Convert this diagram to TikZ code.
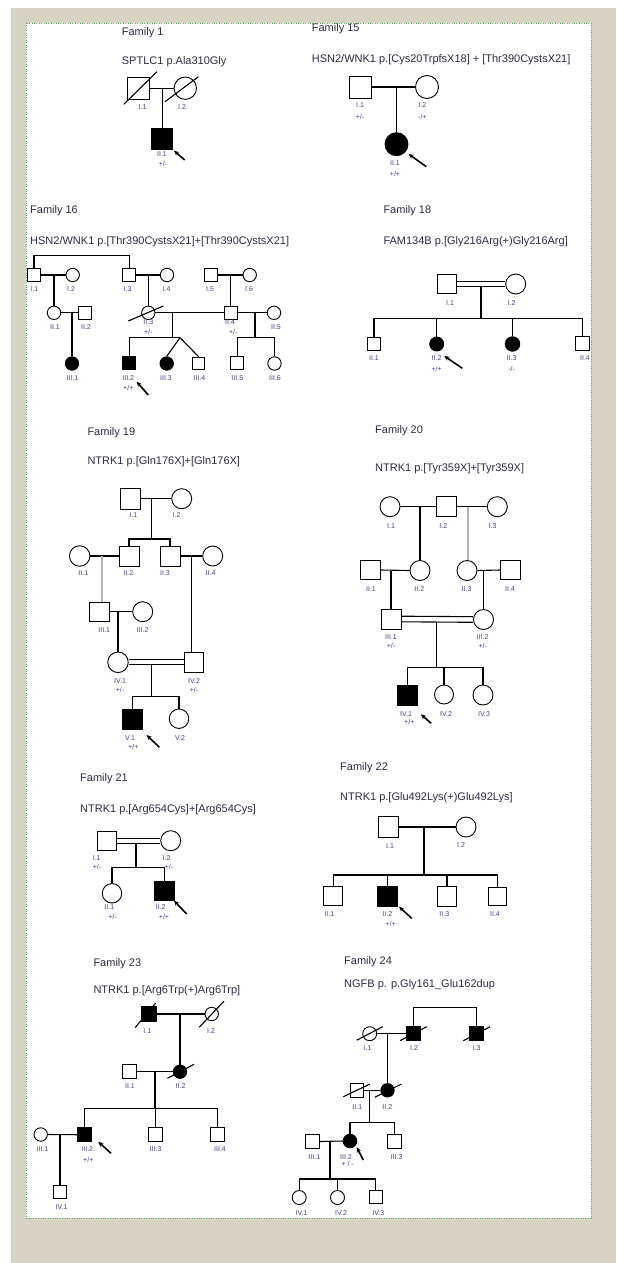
\documentclass[tikz,border=0pt]{standalone}
\usepackage{fontspec}
\setmainfont{Liberation Sans}
\usetikzlibrary{calc,arrows.meta}
\definecolor{beige}{RGB}{214,212,193}
\definecolor{dotgreen}{RGB}{100,175,100}
\definecolor{lblcol}{RGB}{75,60,130}
\definecolor{txtcol}{RGB}{45,45,65}
\newcommand\plab[4]{\node[lbl] (#1) at (#2,#3) {#4};}
\newcommand\pdarrow[5]{\coordinate (#1s) at (#2,#3); \coordinate (#1e) at (#4,#5); \draw[arr] (#1s) -- (#1e);}
\newcommand\pslash[5]{\draw[ln] ($(#1)+(#2,#3)$) -- ($(#1)+(#4,#5)$);}
\begin{document}
\begin{tikzpicture}[x=1pt,y=-1pt,
 ml/.style={draw, rectangle, inner sep=0, line width=0.9, fill=white},
 fm/.style={draw, circle, inner sep=0, line width=0.9, fill=white},
 aff/.style={fill=black},
 ln/.style={line width=1.1, black},
 gl/.style={line width=2, black!30},
 ttl/.style={anchor=west, inner sep=0, text=txtcol, font=\fontsize{11}{13}\selectfont},
 lbl/.style={inner sep=0, text=lblcol, font=\fontsize{7}{8}\selectfont},
 arr/.style={line width=1.6, -{Stealth[length=5pt,width=4.5pt]}}]
\useasboundingbox (0,0) rectangle (616,1263);
\fill[white] (0,0) rectangle (616,1263);
\fill[beige] (10.5,8.5) rectangle (616,1263);
\fill[white] (26,23) rectangle (591,1218);
\draw[dotgreen, line width=0.9, dash pattern=on 0.9pt off 1.5pt] (26,23) rectangle (591,1218);

% ---------------- Family 1
\node[ttl] (t1) at (121.7,33) {Family 1};
\node[ttl] (s1) at (121.7,62) {SPTLC1 p.Ala310Gly};
\node[ml, minimum size=21.6] (f1a) at (138.5,88.2) {};
\node[fm, minimum size=22.4] (f1b) at (185.3,88.2) {};
\node[ml, aff, minimum size=21] (f1c) at (162.3,138.7) {};
\coordinate (f1m) at (162.3,88.2);
\draw[ln] (f1a.east) -- (f1b.west);
\draw[ln] (f1m) -- (f1c.north);
\pslash{f1a}{-14.7}{16.1}{18.5}{-16.5}
\pslash{f1b}{-20.3}{13.5}{13.1}{-11.5}
\plab{f1l1}{142.6}{107.3}{I.1}
\plab{f1l2}{182}{107.3}{I.2}
\plab{f1l3}{162}{154}{II.1}
\plab{f1l4}{163}{164.3}{+/-}
\pdarrow{f1ar}{184.7}{160}{174}{150.7}

% ---------------- Family 15
\node[ttl] (t15) at (311.7,28.5) {Family 15};
\node[ttl] (s15) at (311.7,59.5) {HSN2/WNK1 p.[Cys20TrpfsX18] + [Thr390CystsX21]};
\node[ml, minimum size=22] (f15a) at (360.7,87) {};
\node[fm, minimum size=23] (f15b) at (427,87) {};
\node[fm, aff, minimum size=23] (f15c) at (396.5,144.2) {};
\coordinate (f15m) at (396.5,87);
\draw[ln] (f15a.east) -- (f15b.west);
\draw[ln] (f15m) -- (f15c.north);
\plab{f15l1}{360}{105}{I.1}
\plab{f15l2}{360}{117.3}{+/-}
\plab{f15l3}{422.4}{105}{I.2}
\plab{f15l4}{422.4}{117.3}{-/+}
\plab{f15l5}{395}{163.3}{II.1}
\plab{f15l6}{395}{174}{+/+}
\pdarrow{f15ar}{426.3}{166.7}{408.6}{154}

% ---------------- Family 16
\node[ttl] (t16) at (30,210.7) {Family 16};
\node[ttl] (s16) at (30,241.7) {HSN2/WNK1 p.[Thr390CystsX21]+[Thr390CystsX21]};
\node[ml, minimum size=13] (f16i1) at (34,275) {};
\node[fm, minimum size=13.4] (f16i2) at (72.7,275) {};
\node[ml, minimum size=13] (f16i3) at (129.2,275) {};
\node[fm, minimum size=13.4] (f16i4) at (167,275) {};
\node[ml, minimum size=13] (f16i5) at (210.7,275) {};
\node[fm, minimum size=13.4] (f16i6) at (249.7,275) {};
\node[fm, minimum size=13.4] (f16ii1) at (54,312.8) {};
\node[ml, minimum size=13] (f16ii2) at (85.2,312.8) {};
\node[fm, minimum size=13.4] (f16ii3) at (148.3,312.8) {};
\node[ml, minimum size=13] (f16ii4) at (230.5,312.8) {};
\node[fm, minimum size=13.4] (f16ii5) at (274,312.8) {};
\node[fm, aff, minimum size=13.4] (f16iii1) at (72,363.5) {};
\node[ml, aff, minimum size=13] (f16iii2) at (129.2,363.3) {};
\node[fm, aff, minimum size=13.4] (f16iii3) at (166.7,363.5) {};
\node[ml, minimum size=12.5] (f16iii4) at (198.5,363.3) {};
\node[ml, minimum size=13] (f16iii5) at (237.3,363.3) {};
\node[fm, minimum size=13.4] (f16iii6) at (274.5,363.5) {};
\draw[ln] (f16i1.north) -- ++(0,-12.3) -| (f16i3.north);
\draw[ln] (f16i1.east) -- (f16i2.west);
\draw[ln] (f16i3.east) -- (f16i4.west);
\draw[ln] (f16i5.east) -- (f16i6.west);
\draw[ln] (f16ii1.east) -- (f16ii2.west);
\draw[ln] (f16ii3.east) -- (f16ii4.west);
\draw[ln] (f16ii4.east) -- (f16ii5.west);
\coordinate (f16m1) at (54,275);
\coordinate (f16m2) at (148.3,275);
\coordinate (f16m3) at (230.5,275);
\coordinate (f16m4) at (72,312.8);
\coordinate (f16m5) at (172.3,312.8);
\coordinate (f16m6) at (255,312.8);
\coordinate (f16s1) at (172.3,337.7);
\coordinate (f16tw) at (180,337.7);
\coordinate (f16s2) at (255,337.7);
\draw[ln] (f16m1) -- (f16ii1.north);
\draw[ln] (f16m2) -- (f16ii3.north);
\draw[ln] (f16m3) -- (f16ii4.north);
\draw[ln] (f16m4) -- (f16iii1.north);
\draw[ln] (f16m5) -- (f16s1);
\draw[ln] (f16iii2.north) -- (f16iii2.north |- f16s1) -- (f16tw);
\draw[ln] (f16tw) -- (f16iii3.north);
\draw[ln] (f16tw) -- (f16iii4.north);
\draw[ln] (f16m6) -- (f16s2);
\draw[ln] (f16iii5.north) -- (f16iii5.north |- f16s2) -- (f16iii6.north |- f16s2) -- (f16iii6.north);
\pslash{f16ii3}{-20}{8.2}{15}{-6.8}
\plab{f16l1}{34.3}{289.3}{I.1}
\plab{f16l2}{71}{289.3}{I.2}
\plab{f16l3}{127.7}{289.3}{I.3}
\plab{f16l4}{166.7}{289.3}{I.4}
\plab{f16l5}{210}{289.3}{I.5}
\plab{f16l6}{249}{289.3}{I.6}
\plab{f16l7}{55}{326.7}{II.1}
\plab{f16l8}{86}{326.7}{II.2}
\plab{f16l9}{148.3}{321.7}{II.3}
\plab{f16l10}{230}{321.7}{II.4}
\plab{f16l11}{276}{326.7}{II.5}
\plab{f16l12}{148.3}{332.3}{+/-}
\plab{f16l13}{233.3}{332.3}{+/-}
\plab{f16l14}{72.7}{377.7}{III.1}
\plab{f16l15}{128.3}{377.7}{III.2}
\plab{f16l16}{166}{377.7}{III.3}
\plab{f16l17}{199.3}{377.7}{III.4}
\plab{f16l18}{237.3}{377.7}{III.5}
\plab{f16l19}{275}{377.7}{III.6}
\plab{f16l20}{128.3}{387.7}{+/+}
\pdarrow{f16ar}{148.3}{395}{136.7}{381.7}

% ---------------- Family 18
\node[ttl] (t18) at (383.3,210.7) {Family 18};
\node[ttl] (s18) at (383.3,241.7) {FAM134B p.[Gly216Arg(+)Gly216Arg]};
\node[ml, minimum size=19] (f18i1) at (447.2,284) {};
\node[fm, minimum size=20] (f18i2) at (515.7,284) {};
\node[ml, minimum size=12.5] (f18ii1) at (374,343.8) {};
\node[fm, aff, minimum size=14] (f18ii2) at (436.7,344) {};
\node[fm, aff, minimum size=14.5] (f18ii3) at (512.5,344) {};
\node[ml, minimum size=14] (f18ii4) at (582.8,343.8) {};
\draw[ln] ($(f18i1.east)+(0,-2.4)$) -- ($(f18i2.west)+(0,-2.4)$);
\draw[ln] ($(f18i1.east)+(0,2.4)$) -- ($(f18i2.west)+(0,2.4)$);
\coordinate (f18m) at (481,286.4);
\coordinate (f18s) at (481,318.3);
\draw[ln] (f18m) -- (f18s);
\draw[ln] (f18ii1.north) -- (f18ii1.north |- f18s) -- (f18ii4.north |- f18s) -- (f18ii4.north);
\draw[ln] (f18ii2.north |- f18s) -- (f18ii2.north);
\draw[ln] (f18ii3.north |- f18s) -- (f18ii3.north);
\plab{f18l1}{450}{303.3}{I.1}
\plab{f18l2}{511.7}{303.3}{I.2}
\plab{f18l3}{374}{358.3}{II.1}
\plab{f18l4}{436.7}{358.3}{II.2}
\plab{f18l5}{436.7}{369}{+/+}
\plab{f18l6}{511.7}{358.3}{II.3}
\plab{f18l7}{511.7}{369}{-/-}
\plab{f18l8}{585}{358.3}{II.4}
\pdarrow{f18ar}{462.3}{368.3}{444.3}{356}

% ---------------- Family 19
\node[ttl] (t19) at (87.3,433) {Family 19};
\node[ttl] (s19) at (87.3,462) {NTRK1 p.[Gln176X]+[Gln176X]};
\node[ml, minimum size=20.5] (f19i1) at (130.3,498.7) {};
\node[fm, minimum size=20] (f19i2) at (181.7,498.7) {};
\node[fm, minimum size=20.5] (f19ii1) at (79.7,556) {};
\node[ml, minimum size=20] (f19ii2) at (129,556) {};
\node[ml, minimum size=20] (f19ii3) at (170,556) {};
\node[fm, minimum size=20] (f19ii4) at (212.7,556) {};
\node[ml, minimum size=19.5] (f19iii1) at (99.5,611.7) {};
\node[fm, minimum size=20] (f19iii2) at (142.7,611.7) {};
\node[fm, minimum size=20.5] (f19iv1) at (118,662.3) {};
\node[ml, minimum size=19.5] (f19iv2) at (193.7,662.3) {};
\node[ml, aff, minimum size=20.5] (f19v1) at (132.5,719.2) {};
\node[fm, minimum size=19.5] (f19v2) at (179,718.7) {};
\draw[ln] (f19i1.east) -- (f19i2.west);
\coordinate (f19m1) at (151.7,498.7);
\coordinate (f19s1) at (151.7,539);
\draw[ln] (f19m1) -- (f19s1);
\draw[ln] (f19ii2.north) -- (f19ii2.north |- f19s1) -- (f19ii3.north |- f19s1) -- (f19ii3.north);
\draw[ln] (f19ii1.east) -- (f19ii2.west);
\draw[ln] (f19ii3.east) -- (f19ii4.west);
\coordinate (f19g) at (101.7,556);
\draw[gl] (f19g) -- (f19g |- f19iii1.north);
\coordinate (f19m2) at (191.7,556);
\draw[ln] (f19m2) -- (f19m2 |- f19iv2.north);
\draw[ln] (f19iii1.east) -- (f19iii2.west);
\coordinate (f19m3) at (118,611.7);
\draw[ln] (f19m3) -- (f19iv1.north);
\draw[ln] ($(f19iv1.east)+(0,-2.5)$) -- ($(f19iv2.west)+(0,-2.5)$);
\draw[ln] ($(f19iv1.east)+(0,2.5)$) -- ($(f19iv2.west)+(0,2.5)$);
\coordinate (f19m4) at (151.7,664.8);
\coordinate (f19s2) at (151.7,696.7);
\draw[ln] (f19m4) -- (f19s2);
\draw[ln] (f19v1.north) -- (f19v1.north |- f19s2) -- (f19v2.north |- f19s2) -- (f19v2.north);
\plab{f19l1}{133.3}{515}{I.1}
\plab{f19l2}{176.7}{515}{I.2}
\plab{f19l3}{83.3}{573.3}{II.1}
\plab{f19l4}{128.3}{573.3}{II.2}
\plab{f19l5}{165}{573.3}{II.3}
\plab{f19l6}{210.7}{573.3}{II.4}
\plab{f19l7}{104.3}{630}{III.1}
\plab{f19l8}{142.7}{630}{III.2}
\plab{f19l9}{120}{680.7}{IV.1}
\plab{f19l10}{120}{690}{+/-}
\plab{f19l11}{194}{680.7}{IV.2}
\plab{f19l12}{194}{690}{+/-}
\plab{f19l13}{130}{737.7}{V.1}
\plab{f19l14}{133.3}{747.3}{+/+}
\plab{f19l15}{180}{737.7}{V.2}
\pdarrow{f19ar}{159.3}{747.3}{146.7}{735}

% ---------------- Family 20
\node[ttl] (t20) at (375,431) {Family 20};
\node[ttl] (s20) at (375,468.3) {NTRK1 p.[Tyr359X]+[Tyr359X]};
\node[fm, minimum size=20] (f20i1) at (390,506.7) {};
\node[ml, minimum size=20] (f20i2) at (446.7,506.7) {};
\node[fm, minimum size=20] (f20i3) at (497.3,506.7) {};
\node[ml, minimum size=19.5] (f20ii1) at (370.3,570) {};
\node[fm, minimum size=20] (f20ii2) at (420,570.5) {};
\node[fm, minimum size=20] (f20ii3) at (467,570.5) {};
\node[ml, minimum size=19.5] (f20ii4) at (510.3,570) {};
\node[ml, minimum size=20] (f20iii1) at (391,619) {};
\node[fm, minimum size=20] (f20iii2) at (483.5,619.5) {};
\node[ml, aff, minimum size=20] (f20iv1) at (407.5,695.3) {};
\node[fm, minimum size=19] (f20iv2) at (444,694.5) {};
\node[fm, minimum size=20] (f20iv3) at (483,695) {};
\draw[ln] (f20i1.east) -- (f20i2.west);
\draw[ln] (f20i2.east) -- (f20i3.west);
\coordinate (f20m1) at (420,506.7);
\coordinate (f20g) at (468.3,506.7);
\draw[ln] (f20m1) -- (f20ii2.north);
\draw[gl] (f20g) -- (f20g |- f20ii3.north);
\draw[ln] (f20ii1.east) -- (f20ii2.west);
\draw[ln] (f20ii3.east) -- (f20ii4.west);
\coordinate (f20m2) at (391,570.5);
\coordinate (f20m3) at (483.5,570.5);
\draw[ln] (f20m2) -- (f20iii1.north);
\draw[ln] (f20m3) -- (f20iii2.north);
\draw[ln] ($(f20iii1.east)+(0,-2.8)$) -- ($(f20iii2.west)+(0,-2.8)$);
\draw[ln] ($(f20iii1.east)+(0,2.8)$) -- ($(f20iii2.west)+(0,2.8)$);
\coordinate (f20m4) at (436.7,621.8);
\coordinate (f20s) at (436.7,667.3);
\draw[ln] (f20m4) -- (f20s);
\draw[ln] (f20iv1.north) -- (f20iv1.north |- f20s) -- (f20iv3.north |- f20s) -- (f20iv3.north);
\draw[ln] (f20iv2.north |- f20s) -- (f20iv2.north);
\plab{f20l1}{391}{526}{I.1}
\plab{f20l2}{443.3}{526}{I.2}
\plab{f20l3}{492.7}{526}{I.3}
\plab{f20l4}{371}{589}{II.1}
\plab{f20l5}{419.3}{589}{II.2}
\plab{f20l6}{466.7}{589}{II.3}
\plab{f20l7}{510}{589}{II.4}
\plab{f20l8}{391}{636.7}{III.1}
\plab{f20l9}{391}{645.7}{+/-}
\plab{f20l10}{482.7}{636.7}{III.2}
\plab{f20l11}{482.7}{645.7}{+/-}
\plab{f20l12}{406}{714}{IV.1}
\plab{f20l13}{409.3}{722.3}{+/+}
\plab{f20l14}{446}{714}{IV.2}
\plab{f20l15}{484}{714}{IV.3}
\pdarrow{f20ar}{431}{723.3}{421}{714.3}

% ---------------- Family 21
\node[ttl] (t21) at (80,778.3) {Family 21};
\node[ttl] (s21) at (80,809.3) {NTRK1 p.[Arg654Cys]+[Arg654Cys]};
\node[ml, minimum size=19.5] (f21i1) at (107,840.7) {};
\node[fm, minimum size=20] (f21i2) at (170.7,840.7) {};
\node[fm, minimum size=19.5] (f21ii1) at (112,893.3) {};
\node[ml, aff, minimum size=19.5] (f21ii2) at (164.5,890.7) {};
\draw[ln] ($(f21i1.east)+(0,-2.5)$) -- ($(f21i2.west)+(0,-2.5)$);
\draw[ln] ($(f21i1.east)+(0,2.5)$) -- ($(f21i2.west)+(0,2.5)$);
\coordinate (f21m) at (136,843.2);
\coordinate (f21s) at (136,867.7);
\draw[ln] (f21m) -- (f21s);
\draw[ln] (f21ii1.north) -- (f21ii1.north |- f21s) -- (f21ii2.north |- f21s) -- (f21ii2.north);
\plab{f21l1}{96.7}{857.7}{I.1}
\plab{f21l2}{97}{867.3}{+/-}
\plab{f21l3}{166.7}{857.7}{I.2}
\plab{f21l4}{169}{867.3}{+/-}
\plab{f21l5}{109.3}{906.7}{II.1}
\plab{f21l6}{112.7}{916.7}{+/-}
\plab{f21l7}{160.7}{906.7}{II.2}
\plab{f21l8}{164}{916.7}{+/+}
\pdarrow{f21ar}{186.7}{914}{174}{900.7}

% ---------------- Family 22
\node[ttl] (t22) at (340,767.3) {Family 22};
\node[ttl] (s22) at (340,797.3) {NTRK1 p.[Glu492Lys(+)Glu492Lys]};
\node[ml, minimum size=20.5] (f22i1) at (388.3,827) {};
\node[fm, minimum size=20] (f22i2) at (466,827) {};
\node[ml, minimum size=19] (f22ii1) at (333.3,896.3) {};
\node[ml, aff, minimum size=19.5] (f22ii2) at (387.5,896.3) {};
\node[ml, minimum size=19.5] (f22ii3) at (447,896.3) {};
\node[ml, minimum size=18.5] (f22ii4) at (497.5,896.3) {};
\draw[ln] (f22i1.east) -- (f22i2.west);
\coordinate (f22m) at (424,827);
\coordinate (f22s) at (424,875);
\draw[ln] (f22m) -- (f22s);
\draw[ln] (f22ii1.north) -- (f22ii1.north |- f22s) -- (f22ii4.north |- f22s) -- (f22ii4.north);
\draw[ln] (f22ii2.north |- f22s) -- (f22ii2.north);
\draw[ln] (f22ii3.north |- f22s) -- (f22ii3.north);
\plab{f22l1}{390}{846}{I.1}
\plab{f22l2}{461}{845}{I.2}
\plab{f22l3}{329.3}{914}{II.1}
\plab{f22l4}{387.3}{914}{II.2}
\plab{f22l5}{390.7}{924}{+/+}
\plab{f22l6}{444.3}{914}{II.3}
\plab{f22l7}{495}{914}{II.4}
\pdarrow{f22ar}{411.7}{918.3}{399}{906.7}

% ---------------- Family 23
\node[ttl] (t23) at (93.3,963.3) {Family 23};
\node[ttl] (s23) at (93.3,990.7) {NTRK1 p.[Arg6Trp(+)Arg6Trp]};
\node[ml, aff, minimum size=14.5] (f23i1) at (148.7,1014) {};
\node[fm, minimum size=13.4] (f23i2) at (211.7,1014) {};
\node[ml, minimum size=14] (f23ii1) at (129.3,1071.7) {};
\node[fm, aff, minimum size=13.4] (f23ii2) at (180,1071.7) {};
\node[fm, minimum size=13.4] (f23iii1) at (40.7,1134.5) {};
\node[ml, aff, minimum size=14] (f23iii2) at (84.5,1134.7) {};
\node[ml, minimum size=13.5] (f23iii3) at (155.3,1134.5) {};
\node[ml, minimum size=13.5] (f23iii4) at (217.5,1134.5) {};
\node[ml, minimum size=13] (f23iv1) at (60,1192) {};
\draw[ln] (f23i1.east) -- (f23i2.west);
\coordinate (f23m1) at (180,1014);
\draw[ln] (f23m1) -- (f23ii2.north);
\draw[ln] (f23ii1.east) -- (f23ii2.west);
\coordinate (f23m2) at (155,1071.7);
\coordinate (f23s) at (155,1108.3);
\draw[ln] (f23m2) -- (f23s);
\draw[ln] (f23iii2.north) -- (f23iii2.north |- f23s) -- (f23iii4.north |- f23s) -- (f23iii4.north);
\draw[ln] (f23iii3.north |- f23s) -- (f23iii3.north);
\draw[ln] (f23iii1.east) -- (f23iii2.west);
\coordinate (f23m3) at (60,1134.6);
\draw[ln] (f23m3) -- (f23iv1.north);
\pslash{f23i1}{-13.5}{13.5}{7}{-11}
\pslash{f23i2}{-12.4}{13.2}{12.3}{-12.8}
\pslash{f23ii2}{-12.6}{6.6}{14}{-7.4}
\plab{f23l1}{147.3}{1030.7}{I.1}
\plab{f23l2}{211}{1030.7}{I.2}
\plab{f23l3}{130}{1086}{II.1}
\plab{f23l4}{180.7}{1086}{II.2}
\plab{f23l5}{42.7}{1149.3}{III.1}
\plab{f23l6}{87.3}{1149.3}{III.2}
\plab{f23l7}{155.7}{1149.3}{III.3}
\plab{f23l8}{220}{1149.3}{III.4}
\plab{f23l9}{88.3}{1160}{+/+}
\plab{f23l10}{61.7}{1206.7}{IV.1}
\pdarrow{f23ar}{111}{1153.3}{98.3}{1141.7}

% ---------------- Family 24
\node[ttl] (t24) at (344,962) {Family 24};
\node[ttl] (s24) at (344,985) {NGFB p. p.Gly161\_Glu162dup};
\node[fm, minimum size=14] (f24i1) at (369.7,1033.7) {};
\node[ml, aff, minimum size=14] (f24i2) at (413.7,1033.7) {};
\node[ml, aff, minimum size=14] (f24i3) at (476.3,1033.7) {};
\node[ml, minimum size=13.3] (f24ii1) at (356.7,1090.3) {};
\node[fm, aff, minimum size=13.4] (f24ii2) at (387.5,1090.3) {};
\node[ml, minimum size=13.5] (f24iii1) at (312.5,1141.5) {};
\node[fm, aff, minimum size=13.6] (f24iii2) at (350,1141) {};
\node[ml, minimum size=14] (f24iii3) at (394.5,1141) {};
\node[fm, minimum size=14] (f24iv1) at (299.2,1197.5) {};
\node[fm, minimum size=14] (f24iv2) at (337.5,1197.5) {};
\node[ml, minimum size=13] (f24iv3) at (375.7,1197.3) {};
\draw[ln] (f24i2.north) -- ++(0,-19) -| (f24i3.north);
\draw[ln] (f24i1.east) -- (f24i2.west);
\coordinate (f24m1) at (387.5,1033.7);
\draw[ln] (f24m1) -- (f24ii2.north);
\draw[ln] (f24ii1.east) -- (f24ii2.west);
\coordinate (f24m2) at (369.3,1090.3);
\coordinate (f24s1) at (369.3,1122.3);
\draw[ln] (f24m2) -- (f24s1);
\draw[ln] (f24iii2.north) -- (f24iii2.north |- f24s1) -- (f24iii3.north |- f24s1) -- (f24iii3.north);
\draw[ln] (f24iii1.east) -- (f24iii2.west);
\coordinate (f24m3) at (330,1141.3);
\coordinate (f24s2) at (330,1179);
\draw[ln] (f24m3) -- (f24s2);
\draw[ln] (f24iv1.north) -- (f24iv1.north |- f24s2) -- (f24iv3.north |- f24s2) -- (f24iv3.north);
\draw[ln] (f24iv2.north |- f24s2) -- (f24iv2.north);
\pslash{f24i1}{-13}{6.5}{13}{-7}
\pslash{f24i2}{-13.7}{7}{13}{-7}
\pslash{f24i3}{-13}{7}{13.7}{-7}
\pslash{f24ii1}{-13.4}{6.4}{13.3}{-6.3}
\pslash{f24ii2}{-12.7}{7}{14}{-6.3}
\plab{f24l1}{367.3}{1047.7}{I.1}
\plab{f24l2}{414}{1047.7}{I.2}
\plab{f24l3}{476.7}{1047.7}{I.3}
\plab{f24l4}{357.3}{1106.7}{II.1}
\plab{f24l5}{387.3}{1106.7}{II.2}
\plab{f24l6}{314.3}{1157.3}{III.1}
\plab{f24l7}{346}{1157.3}{III.2}
\plab{f24l8}{347.7}{1164.3}{+ / -}
\plab{f24l9}{396.7}{1157.3}{III.3}
\plab{f24l10}{301.7}{1213.3}{IV.1}
\plab{f24l11}{341}{1213.3}{IV.2}
\plab{f24l12}{378.3}{1213.3}{IV.3}
\pdarrow{f24ar}{363.3}{1160}{356.7}{1147.3}
\end{tikzpicture}
\end{document}
